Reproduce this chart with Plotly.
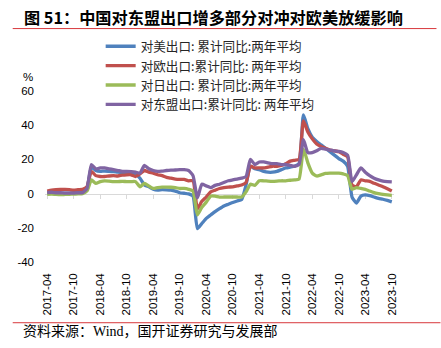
import pandas as pd
import plotly.graph_objects as go

# ---------------- data ----------------
MONTHS = [p.strftime("%Y-%m") for p in pd.period_range("2017-04", "2023-10", freq="M")]
TICK_LABELS = ["2017-04", "2017-10", "2018-04", "2018-10", "2019-04", "2019-10", "2020-04",
               "2020-10", "2021-04", "2021-10", "2022-04", "2022-10", "2023-04", "2023-10"]

SERIES_NAMES = ["对美出口: 累计同比:两年平均", "对欧出口:累计同比: 两年平均",
                "对日出口: 累计同比:两年平均", "对东盟出口:累计同比: 两年平均"]

US = [0.3, 0.5, 0.4, 0.3, 0.2, 0.3, 0.5, 0.8, 1.0, 3.0,
      15.5, 13.5, 13.0, 13.2, 13.0, 12.8, 12.5, 12.3, 12.0, 12.0,
      11.5, 9.0, 5.0, 4.0, 2.5, 2.0, 2.3, 2.2, 2.0, 1.5,
      0.5, 0.2, -0.2, -1.5, -20.5, -17.5, -14.5, -12.5, -10.5, -8.8,
      -7.2, -6.2, -5.2, -4.3, -3.5, 5.0, 16.0, 14.5, 14.0, 13.0,
      12.5, 12.5, 13.0, 14.0, 15.0, 15.5, 16.0, 17.5, 46.0, 38.0,
      33.0, 30.5, 28.5, 26.5, 24.5, 22.5, 20.5, 19.0, 16.0, -2.0,
      -5.5, -1.5, -0.8, -1.2, -2.0, -2.8, -3.3, -4.0, -4.8]

EU = [1.5, 2.0, 2.3, 2.5, 2.5, 2.3, 2.0, 2.3, 2.5, 4.0,
      13.0, 10.5, 10.0, 10.0, 10.3, 10.5, 10.3, 10.8, 11.0, 11.0,
      10.0, 11.5, 13.5, 12.5, 12.0, 11.0, 10.5, 9.5, 9.0, 8.5,
      8.3, 8.3, 7.5, 7.5, -9.0, -4.5, -2.0, 1.0, 2.0, 3.0,
      3.5, 3.8, 4.0, 4.5, 5.0, 6.5, 16.0, 15.0, 15.0, 15.0,
      15.5, 16.0, 16.0, 16.5, 17.5, 19.0, 19.5, 20.0, 42.5, 36.0,
      32.0, 29.0, 27.5, 26.5, 25.5, 25.0, 24.5, 23.0, 21.5, 5.0,
      4.0, 8.0, 7.5, 7.2, 6.0, 5.0, 4.0, 2.8, 1.5]

JP = [-0.5, -0.3, -0.5, -0.6, -0.5, -0.4, -0.3, -0.2, 0.0, 1.5,
      8.0, 6.0, 7.0, 7.5, 7.3, 7.0, 7.0, 7.2, 7.0, 7.0,
      7.0, 4.0, 6.0, 4.5, 3.0, 3.5, 3.8, 3.8, 3.7, 3.5,
      3.0, 3.0, 2.5, 1.5, -12.5, -8.0, -5.0, -1.5, -1.5, -2.0,
      -2.0, -2.0, -2.0, -2.0, -2.0, 1.0, 5.5, 4.8, 7.5, 7.5,
      7.3, 7.2, 7.3, 7.5, 7.5, 7.8, 8.0, 8.5, 26.0, 18.0,
      12.0, 10.3, 11.0, 11.8, 12.0, 12.0, 12.0, 11.5, 10.5, 2.5,
      3.5, 3.0, 2.5, 1.5, 0.6, 0.0, -0.5, -0.8, -1.0]

ASEAN = [0.6, 0.8, 0.5, 0.5, 0.3, 0.3, 0.3, 0.5, 0.5, 3.0,
         17.0, 14.5, 15.0, 15.0, 14.5, 14.0, 13.5, 13.0, 13.0, 12.8,
         12.5, 12.0, 16.5, 14.5, 13.5, 13.0, 13.2, 13.5, 13.7, 13.8,
         14.0, 14.0, 13.5, 10.5, -2.5, 5.5, 4.5, 3.5, 4.8, 5.5,
         6.5, 7.5, 8.0, 8.5, 9.0, 10.0, 20.0, 17.0, 18.5, 18.5,
         18.0, 17.5, 17.5, 17.0, 17.0, 16.5, 16.0, 17.0, 31.5, 24.0,
         24.0, 25.0, 26.5, 26.0, 25.5, 25.0, 24.7, 24.0, 22.5, 7.0,
         11.0, 15.0, 12.5, 10.5, 9.0, 8.0, 7.3, 7.0, 6.8]

Y_TICKS = [-40, -20, 0, 20, 40, 60]
Y_TICK_TEXT = ["-40", "-20", "0", "20", "40", "60"]

COLORS = ["#4F81BD", "#C0504D", "#9BBB59", "#8064A2"]

# ---------------- geometry (pixels) ----------------
W, H = 441, 348
L, R, T, B = 45.3, 46.5, 91.0, 85.8
PW, PH = W - L - R, H - T - B


def px(x):
    return (x - L) / PW


def py(y):
    return (H - B - y) / PH


fig = go.Figure()

# dummy trace on the zero-line axis
fig.add_trace(go.Scatter(x=MONTHS, y=[None] * len(MONTHS), xaxis="x", yaxis="y",
                         showlegend=False, hoverinfo="skip", mode="lines"))

for name, vals, col in zip(SERIES_NAMES, [US, EU, JP, ASEAN], COLORS):
    fig.add_trace(go.Scatter(x=MONTHS, y=vals, name=name, mode="lines",
                             line=dict(color=col, width=3.3, shape="spline", smoothing=0.5),
                             xaxis="x2", yaxis="y"))

tickfont = dict(family="Liberation Sans, Arial", size=11.5, color="#000000")

fig.update_layout(
    template="none",
    width=W, height=H,
    margin=dict(l=L, r=R, t=T, b=B, pad=0),
    paper_bgcolor="white", plot_bgcolor="white",
    showlegend=True,
    legend=dict(x=px(101), y=py(31.5), xanchor="left", yanchor="top",
                font=dict(family="Noto Sans CJK SC", size=12.6, color="#262626"),
                bgcolor="rgba(0,0,0,0)", borderwidth=0, tracegroupgap=0),
    xaxis=dict(type="category", categoryorder="array", categoryarray=MONTHS,
               range=[-0.5, len(MONTHS) - 0.5], anchor="free", position=0.4,
               showline=True, linecolor="#d9d9d9", linewidth=1,
               ticks="outside", ticklen=4, tickcolor="#d9d9d9", tickwidth=1,
               tickvals=TICK_LABELS, showticklabels=False, showgrid=False,
               zeroline=False, layer="below traces", automargin=False),
    xaxis2=dict(type="category", categoryorder="array", categoryarray=MONTHS,
                range=[-0.5, len(MONTHS) - 0.5], overlaying="x", anchor="y", side="bottom",
                showline=False, ticks="", tickvals=TICK_LABELS, ticktext=TICK_LABELS,
                tickangle=-90, tickfont=tickfont, showgrid=False, zeroline=False,
                ticklabelstandoff=8, automargin=False),
    yaxis=dict(range=[-40, 60], tickvals=Y_TICKS, ticktext=Y_TICK_TEXT, showgrid=False,
               zeroline=False, showline=False, ticks="", tickfont=tickfont,
               ticklabelstandoff=10, automargin=False, anchor="x"),
    annotations=[
        dict(text="<b>图 51：中国对东盟出口增多部分对冲对欧美放缓影响</b>", xref="paper", yref="paper",
             x=px(22), y=py(17), xanchor="left", yanchor="middle", showarrow=False,
             font=dict(family="Noto Sans CJK SC", size=16.2, color="#000000")),
        dict(text="%", xref="paper", yref="paper", x=px(28.5), y=py(77),
             xanchor="center", yanchor="middle", showarrow=False,
             font=dict(family="Liberation Sans, Arial", size=11.5, color="#000000")),
        dict(text="资料来源：Wind，国开证券研究与发展部", xref="paper", yref="paper",
             x=px(21), y=py(332), xanchor="left", yanchor="middle", showarrow=False,
             font=dict(family="Liberation Serif, Noto Sans CJK SC", size=14, color="#000000")),
    ],
    shapes=[
        dict(type="line", xref="paper", yref="paper", x0=px(13), x1=px(437),
             y0=py(28.5), y1=py(28.5), line=dict(color="#d8383c", width=1)),
        dict(type="line", xref="paper", yref="paper", x0=px(13), x1=px(441),
             y0=py(323), y1=py(323), line=dict(color="#d8383c", width=1)),
    ],
)

fig.write_html("out.html")
